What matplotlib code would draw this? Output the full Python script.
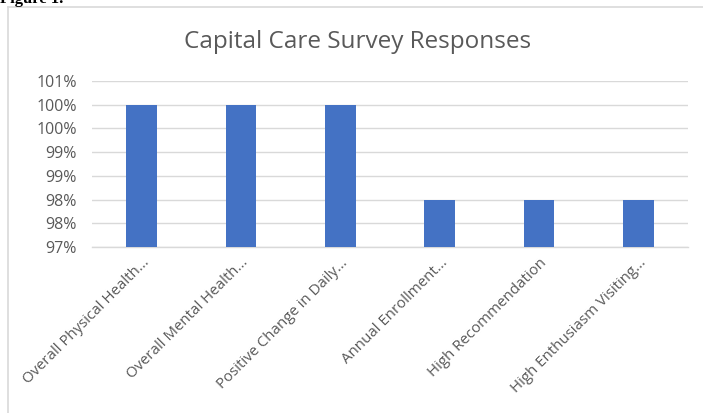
import math
import matplotlib
matplotlib.use("Agg")
import matplotlib.pyplot as plt
from matplotlib.ticker import FuncFormatter, MultipleLocator
from matplotlib.lines import Line2D

categories = [
    "Overall Physical Health...",
    "Overall Mental Health...",
    "Positive Change in Daily...",
    "Annual Enrollment...",
    "High Recommendation",
    "High Enthusiasm Visiting...",
]
values = [1.00, 1.00, 1.00, 0.98, 0.98, 0.98]
title = "Capital Care Survey Responses"
y_min, y_max, y_step = 0.97, 1.005, 0.005

W, H = 703, 413
fig = plt.figure(figsize=(W / 100, H / 100), dpi=100)
fig.patch.set_facecolor("white")

font = "Open Sans"
gray = "#595959"

# chart border (cropped on right and bottom)
fig.add_artist(Line2D([8 / W, 1.0], [1 - 7 / H, 1 - 7 / H], color="#d9d9d9", lw=1.2,
                      transform=fig.transFigure))
fig.add_artist(Line2D([8 / W, 8 / W], [0, 1 - 7 / H], color="#d9d9d9", lw=1.2,
                      transform=fig.transFigure))

fig.text(0 / W, 1 - 3 / H, "Figure 1.", family="Liberation Serif", weight="bold",
         fontsize=12, va="baseline", ha="left", color="black")

ax = fig.add_axes([92 / W, 1 - 247 / H, (688 - 92) / W, (247 - 81) / H])
x = list(range(len(categories)))
ax.bar(x, values, width=0.31, color="#4472c4", zorder=3)
ax.set_xlim(-0.5, len(categories) - 0.5)
ax.set_ylim(y_min, y_max)
ax.yaxis.set_major_locator(MultipleLocator(y_step))


def pct(v, pos):
    return f"{math.floor(v * 100 + 0.5 + 1e-9):d}%"


ax.yaxis.set_major_formatter(FuncFormatter(pct))
ax.grid(axis="y", color="#d9d9d9", lw=1, zorder=0)
ax.set_axisbelow(True)
for s in ["top", "right", "left"]:
    ax.spines[s].set_visible(False)
ax.spines["bottom"].set_color("#d9d9d9")
ax.spines["bottom"].set_linewidth(1)
ax.tick_params(axis="both", length=0, colors=gray)
ax.tick_params(axis="y", pad=11, labelsize=11.5)
ax.set_xticks(x)
ax.set_xticklabels(categories, rotation=45, ha="right", rotation_mode="anchor",
                   family=font, color=gray, fontsize=10.8)
for lab in ax.get_yticklabels():
    lab.set_family(font)
ax.tick_params(axis="x", pad=6)

fig.text(358 / W, 1 - 42 / H, title, family=font, fontsize=17.5, color=gray,
         ha="center", va="center")

fig.savefig("out.png", dpi=100, facecolor="white")
